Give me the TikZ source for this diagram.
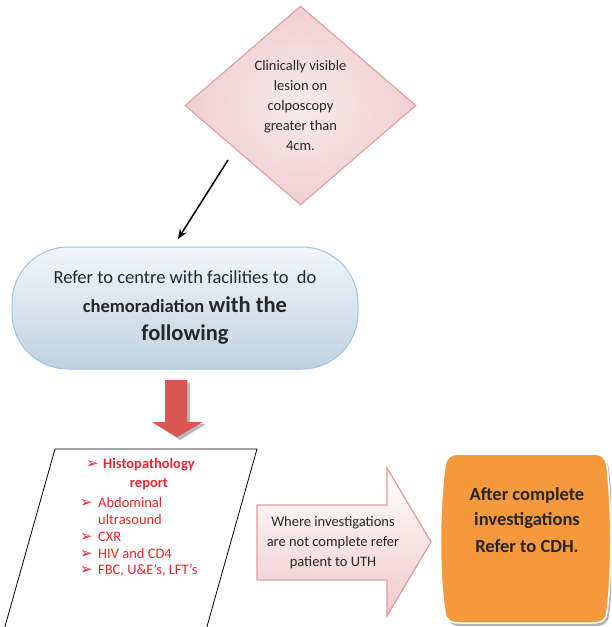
\documentclass[tikz,border=0pt]{standalone}
\usepackage{fontspec}
\setmainfont{Carlito}
\newfontfamily\symfont{DejaVu Sans}
\usetikzlibrary{shapes.geometric,arrows.meta}
\definecolor{txt}{HTML}{262626}
\definecolor{redtxt}{HTML}{E8262E}
\definecolor{diaborder}{HTML}{E3A3A3}
\definecolor{diaout}{HTML}{F0CFD0}
\definecolor{diain}{HTML}{F7EAEC}
\definecolor{stborder}{HTML}{9DC3E6}
\definecolor{sttop}{HTML}{F1F6FA}
\definecolor{stbot}{HTML}{BFD2E0}
\definecolor{redarrow}{HTML}{D95750}
\definecolor{arrborder}{HTML}{E29C97}
\definecolor{arrbot}{HTML}{F0C9C9}
\definecolor{orangefill}{HTML}{F6993C}
\tikzset{
  x=1pt, y=-1pt,
  diabox/.style={shape=diamond, draw=diaborder, line width=1.2pt, shading=radial, inner color=diain, outer color=diaout, minimum width=231pt, minimum height=199pt, inner sep=0pt, align=center, text=txt, font=\fontsize{14.5}{20}\selectfont},
  stadbox/.style={shape=rectangle, rounded corners=56pt, draw=stborder, line width=1pt, top color=sttop, bottom color=stbot, minimum width=346pt, minimum height=122pt},
  sttext/.style={anchor=base, text=txt, inner sep=0pt},
  listtext/.style={anchor=base west, text=redtxt, inner sep=0pt, font=\fontsize{14.5}{17}\selectfont},
  listmark/.style={anchor=base west, text=redtxt, inner sep=0pt, font=\symfont\fontsize{15}{17}\selectfont},
  arrtext/.style={anchor=base, text=txt, inner sep=0pt, font=\fontsize{14.5}{17}\selectfont},
  ortext/.style={anchor=base, text=txt, inner sep=0pt, font=\bfseries\fontsize{18.5}{22}\selectfont},
}
\begin{document}
\begin{tikzpicture}
\useasboundingbox (0,0) rectangle (611,627);
\clip (0,0) rectangle (611,627);
\fill[white] (0,0) rectangle (611,627);

% diamond
\node[diabox] (dia) at (300.5,105.5) {Clinically visible\\lesion on\\colposcopy\\greater than\\4cm.};

% black arrow
\coordinate (a1) at (228,160);
\coordinate (a2) at (178,239);
\draw[line width=1.5pt, -{Stealth[length=10pt,width=8pt]}] (a1) -- (a2);

% stadium
\node[stadbox] (ref) at (185,308) {};
\node[sttext, font=\fontsize{18.5}{22}\selectfont] (r1) at (185,283) {Refer to centre with facilities to\ \ do};
\node[sttext] (r2) at (185,312) {\bfseries\fontsize{18.5}{22}\selectfont chemoradiation \fontsize{22.5}{26}\selectfont with the};
\node[sttext, font=\bfseries\fontsize{22.5}{26}\selectfont] (r3) at (185,340) {following};

% red down arrow
\fill[gray!55] (168,383) -- (190,383) -- (190,424) -- (206,424) -- (180,440) -- (155,424) -- (168,424) -- cycle;
\fill[redarrow] (165,380) -- (187,380) -- (187,422) -- (203,422) -- (177,437) -- (152,422) -- (165,422) -- cycle;

% parallelogram
\draw[line width=0.8pt] (55,449) -- (257,449) -- (206,630) -- (4,630) -- cycle;
\coordinate (par) at (150,449);
\node[listmark] (m0) at (86,468) {➢};
\node[listtext, font=\bfseries\fontsize{14.5}{17}\selectfont] (l0) at (103,468) {Histopathology};
\node[sttext, text=redtxt, font=\bfseries\fontsize{14.5}{17}\selectfont] (l0b) at (149,487) {report};
\node[listmark] (m1) at (80,507) {➢};
\node[listtext] (l1) at (98,507) {Abdominal};
\node[listtext] (l1b) at (98,524) {ultrasound};
\node[listmark] (m2) at (80,541) {➢};
\node[listtext] (l2) at (98,541) {CXR};
\node[listmark] (m3) at (80,558) {➢};
\node[listtext] (l3) at (98,558) {HIV and CD4};
\node[listmark] (m4) at (80,574) {➢};
\node[listtext] (l4) at (98,574) {FBC, U\&E’s, LFT’s};

% right block arrow
\path[draw=arrborder, line width=1.2pt, top color=white, bottom color=arrbot] (257,505) -- (387,505) -- (387,468) -- (431,542) -- (387,616) -- (387,580) -- (257,580) -- cycle;
\node[arrtext] (t1) at (333,526) {Where investigations};
\node[arrtext] (t2) at (333,546) {are not complete refer};
\node[arrtext] (t3) at (333,566) {patient to UTH};

% orange box
\fill[gray!60] (462,457) -- (594,457) .. controls (604,457) and (608,461) .. (609,469) .. controls (614,513) and (614,578) .. (609,615) .. controls (608,623) and (604,626) .. (594,626) -- (462,626) .. controls (452,626) and (448,623) .. (447,615) .. controls (441,578) and (441,513) .. (447,469) .. controls (448,461) and (452,457) .. (462,457) -- cycle;
\path[fill=orangefill, draw=white, line width=1.5pt] (460,454) -- (592,454) .. controls (602,454) and (606,458) .. (607,466) .. controls (612,510) and (612,575) .. (607,612) .. controls (606,620) and (602,623) .. (592,623) -- (460,623) .. controls (450,623) and (446,620) .. (445,612) .. controls (439,575) and (439,510) .. (445,466) .. controls (446,458) and (450,454) .. (460,454) -- cycle;
\node[ortext] (o1) at (527,500) {After complete};
\node[ortext] (o2) at (527,525) {investigations};
\node[ortext] (o3) at (527,552) {Refer to CDH.};
\end{tikzpicture}
\end{document}
